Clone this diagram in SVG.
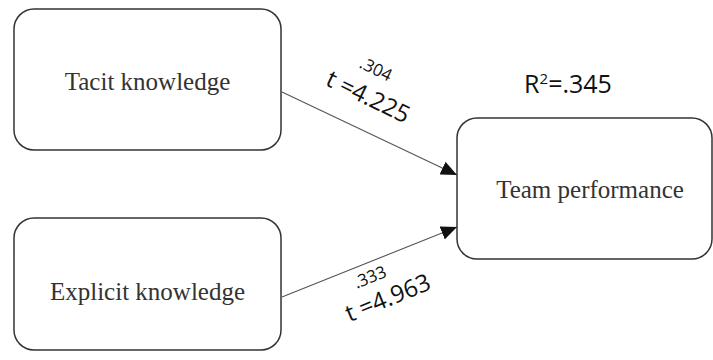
<svg xmlns="http://www.w3.org/2000/svg" width="713" height="360" viewBox="0 0 713 360">
<defs>
<style>
.box{fill:#fff;stroke:#333;stroke-width:1.5}
.nt{font-family:"Liberation Serif","Times New Roman",serif;font-size:25px;fill:#333;text-anchor:middle}
.lb{font-family:"Open Sans","Liberation Sans",sans-serif;fill:#111;text-anchor:middle}
.edge{stroke:#555;stroke-width:1.1;fill:none;marker-end:url(#ah)}
</style>
<marker id="ah" markerWidth="16" markerHeight="14" refX="16" refY="7" orient="auto" markerUnits="userSpaceOnUse">
<path d="M0,0 L16,7 L0,14 Z" fill="#111"/>
</marker>
</defs>
<rect width="713" height="360" fill="#fff"/>
<g id="connectors">
<line class="edge" x1="282" y1="92" x2="457" y2="175"/>
<line class="edge" x1="282" y1="297" x2="457" y2="227"/>
</g>
<g id="tacit">
<rect class="box" x="14" y="9" width="267" height="141" rx="20"/>
<text class="nt" x="147.5" y="90">Tacit knowledge</text>
</g>
<g id="explicit">
<rect class="box" x="14" y="218" width="267" height="132" rx="20"/>
<text class="nt" x="147.5" y="300">Explicit knowledge</text>
</g>
<g id="team">
<rect class="box" x="457" y="118" width="255" height="141" rx="20"/>
<text class="nt" x="590" y="198">Team performance</text>
</g>
<g id="labels">
<text class="lb" font-size="25" x="568" y="93">R<tspan font-size="15" dy="-9">2</tspan><tspan dy="9">=.345</tspan></text>
<text class="lb" font-size="17" transform="translate(376,69) rotate(26)" y="6">.304</text>
<text class="lb" font-size="24" transform="translate(368,97) rotate(26)" y="8">t =4.225</text>
<text class="lb" font-size="17" transform="translate(370,277) rotate(-22)" y="6">.333</text>
<text class="lb" font-size="24" transform="translate(388,298) rotate(-22)" y="8">t =4.963</text>
</g>
</svg>
